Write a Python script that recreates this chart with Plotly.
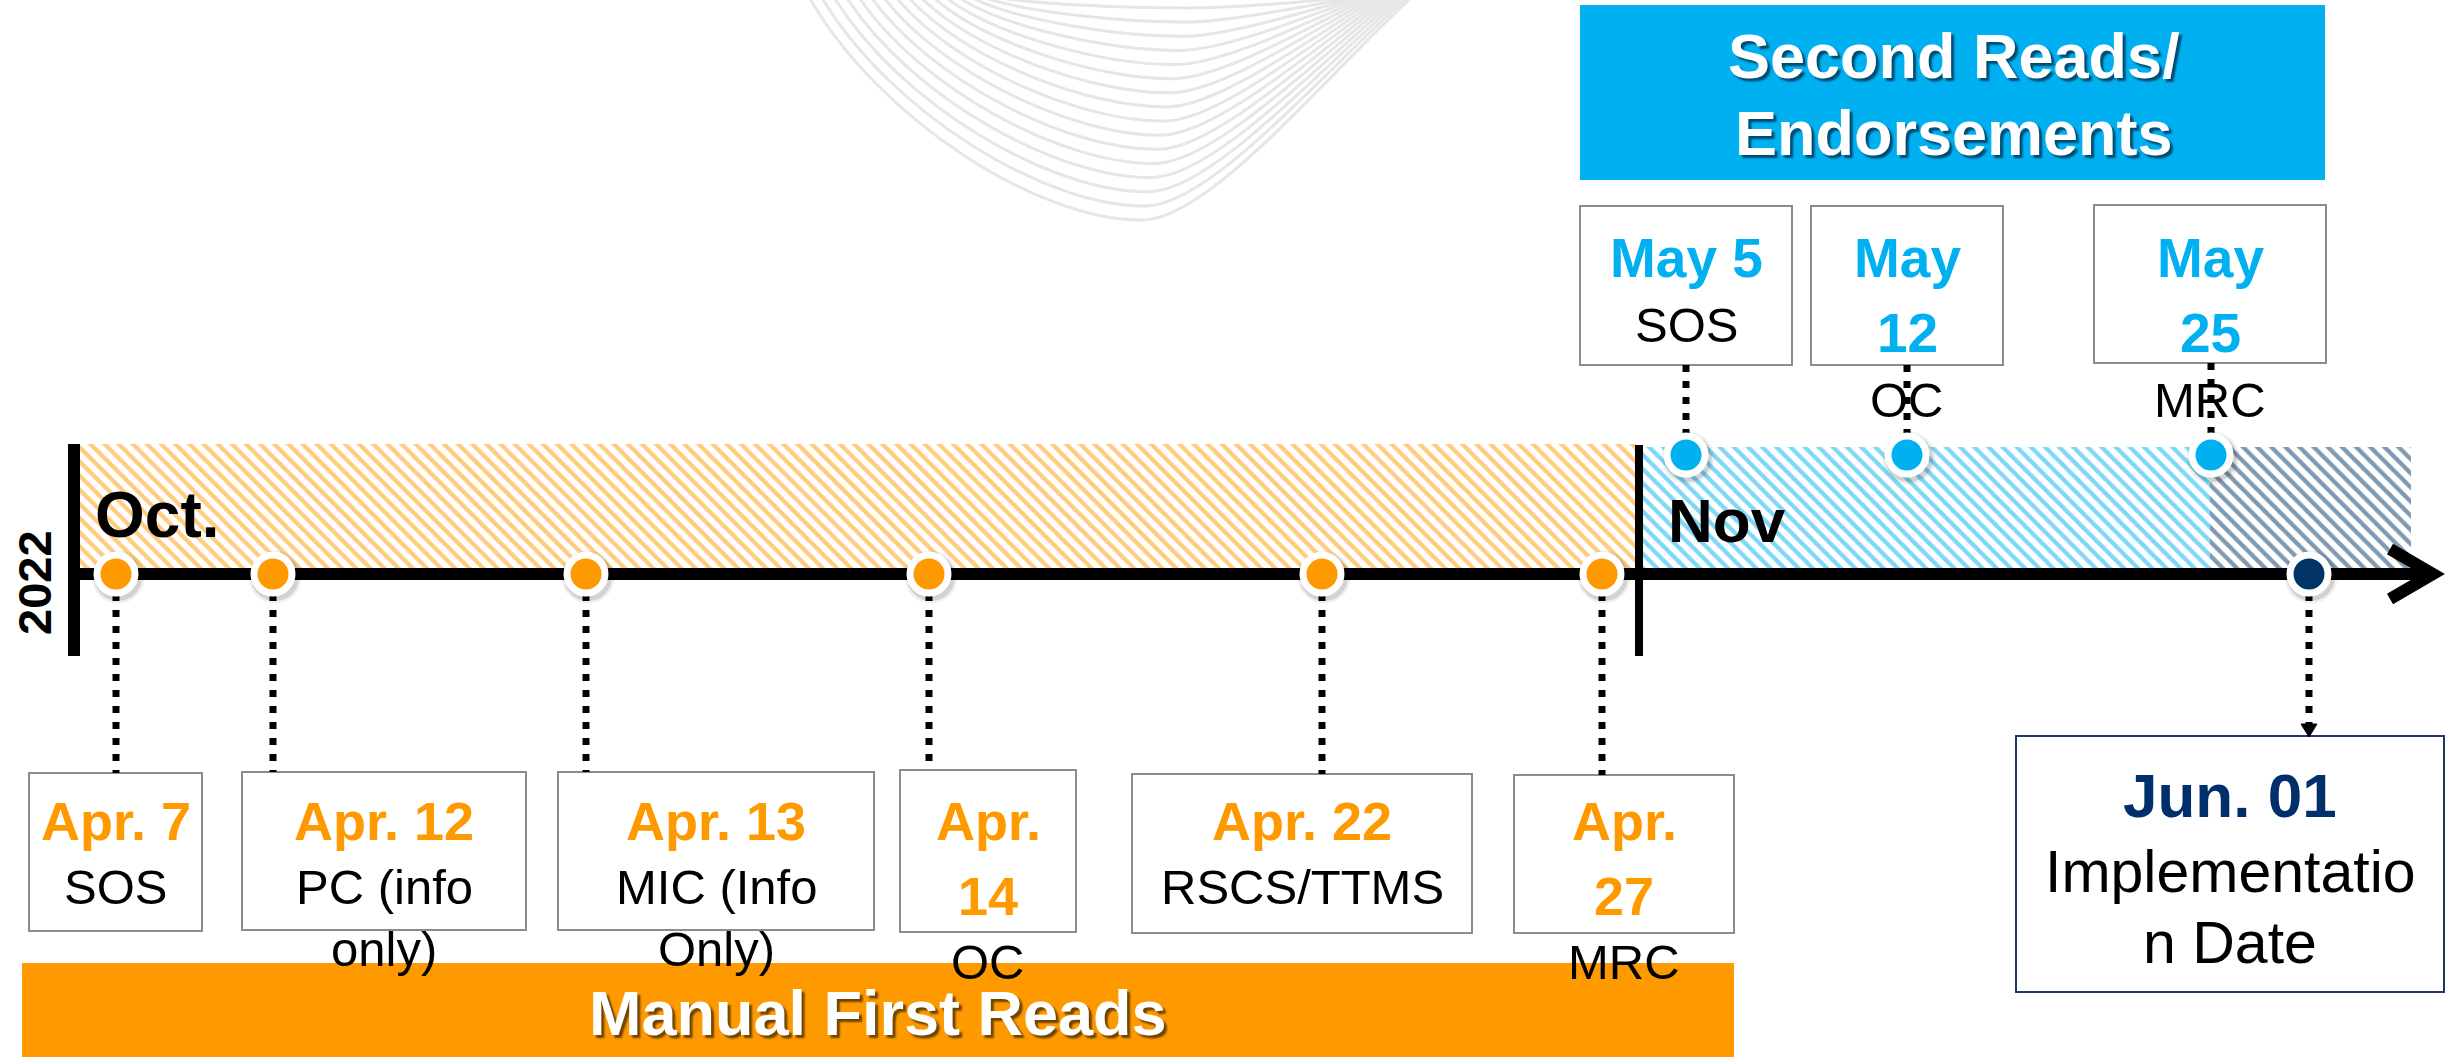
import plotly.graph_objects as go

# ---------------- data ----------------
year_label = "2022"
period_labels = ["Oct.", "Nov"]
phase_titles = ["Manual First Reads", "Second Reads/", "Endorsements"]

# first reads (orange) : timeline positions
first_pos = [116, 273, 586, 929, 1322, 1602]
first_date_lines = [["Apr. 7"], ["Apr. 12"], ["Apr. 13"], ["Apr.", "14"], ["Apr. 22"], ["Apr.", "27"]]
first_label_lines = [["SOS"], ["PC (info", "only)"], ["MIC (Info", "Only)"], ["OC"], ["RSCS/TTMS"], ["MRC"]]

# second reads / endorsements (blue)
second_pos = [1686, 1907, 2211]
second_date_lines = [["May 5"], ["May", "12"], ["May", "25"]]
second_label_lines = [["SOS"], ["OC"], ["MRC"]]

# implementation (navy)
impl_pos = [2309]
impl_date_lines = [["Jun. 01"]]
impl_label_lines = [["Implementatio", "n Date"]]

# period bands on the timeline (start, end)
band_starts = [80, 1643, 2210]
band_ends = [1636, 2210, 2411]

# ---------------- layout / style ----------------
W, H = 2450, 1057
FONT = "Liberation Sans, Arial, sans-serif"
ORANGE = "#FF9900"
BLUE = "#00B0F0"
NAVY = "#003366"
NAVY_TXT = "#002F6C"
GRAY = "#8C8C8C"

LINE_Y = 574
TOP_DOT_Y = 455
BAND_TOP = [444, 447, 447]
BAND_BOTTOM = 570
band_colors = [ORANGE, BLUE, NAVY]

first_boxes = [(29, 202, 773, 931), (242, 526, 772, 930), (558, 874, 772, 930),
               (900, 1076, 770, 932), (1132, 1472, 774, 933), (1514, 1734, 775, 933)]
second_boxes = [(1580, 1792, 206, 365), (1811, 2003, 206, 365), (2094, 2326, 205, 363)]
impl_boxes = [(2016, 2444, 736, 992)]

fig = go.Figure()

# ---- background decorative curves ----
shapes = []
n_curves = 16
for k in range(n_curves):
    t = k / (n_curves - 1)
    sx = 809 + t * (995 - 809)
    mx = 1144 + t * 45
    my = 220 - t * 212
    ex = 1412 - t * 62
    c1 = (sx + 0.21 * (mx - sx), 0.545 * my)
    c2 = (mx - 0.31 * (mx - sx), my * 1.01)
    c3 = (mx + 0.25 * (ex - mx), my * 0.99)
    c4 = (ex - 0.3 * (ex - mx), 0.32 * my)
    path = (f"M {sx:.1f},-3 C {c1[0]:.1f},{c1[1]:.1f} {c2[0]:.1f},{c2[1]:.1f} {mx:.1f},{my:.1f} "
            f"C {c3[0]:.1f},{c3[1]:.1f} {c4[0]:.1f},{c4[1]:.1f} {ex:.1f},-3")
    shapes.append(dict(type="path", path=path, xref="x", yref="y", layer="below",
                       line=dict(color="#E6E6E6", width=3)))

# ---- header bars ----
shapes.append(dict(type="rect", xref="x", yref="y", x0=1580, x1=2325, y0=5, y1=180,
                   fillcolor=BLUE, line=dict(width=0), layer="below"))
shapes.append(dict(type="rect", xref="x", yref="y", x0=22, x1=1734, y0=963, y1=H + 5,
                   fillcolor=ORANGE, line=dict(width=0), layer="below"))

# ---- boxes ----
for (x0, x1, y0, y1) in first_boxes + second_boxes:
    shapes.append(dict(type="rect", xref="x", yref="y", x0=x0, x1=x1, y0=y0, y1=y1,
                       fillcolor="white", line=dict(color=GRAY, width=2), layer="below"))
for (x0, x1, y0, y1) in impl_boxes:
    shapes.append(dict(type="rect", xref="x", yref="y", x0=x0, x1=x1, y0=y0, y1=y1,
                       fillcolor="white", line=dict(color="#203864", width=2), layer="below"))

# ---- arrow head of timeline ----
shapes.append(dict(type="path", xref="x", yref="y", layer="above",
                   path="M 2390,549 L 2433,574 L 2390,599", line=dict(color="black", width=12)))
# arrow tip of Jun connector
shapes.append(dict(type="path", xref="x", yref="y", layer="above",
                   path=f"M {impl_pos[0]-8},724 L {impl_pos[0]+8},724 L {impl_pos[0]},737 Z",
                   fillcolor="black", line=dict(color="black", width=1)))

# ---- hatched period bands ----
for s, e, top, c in zip(band_starts, band_ends, BAND_TOP, band_colors):
    fig.add_trace(go.Bar(orientation="h", base=[s], x=[e - s], y=[(top + BAND_BOTTOM) / 2],
                         width=[BAND_BOTTOM - top],
                         marker=dict(color=c, line=dict(width=0),
                                     pattern=dict(shape="\\", fgcolor=c, bgcolor="white",
                                                  fillmode="overlay", size=10, solidity=0.42)),
                         hoverinfo="skip", showlegend=False))

# ---- vertical year/month bars ----
fig.add_trace(go.Scatter(x=[74, 74], y=[444, 656], mode="lines",
                         line=dict(color="black", width=12), hoverinfo="skip", showlegend=False))
fig.add_trace(go.Scatter(x=[1639, 1639], y=[445, 656], mode="lines",
                         line=dict(color="black", width=8), hoverinfo="skip", showlegend=False))
# ---- main timeline ----
fig.add_trace(go.Scatter(x=[74, 2425], y=[LINE_Y, LINE_Y], mode="lines",
                         line=dict(color="black", width=12), hoverinfo="skip", showlegend=False))

# ---- dotted connectors ----
cx, cy = [], []
for p, b in zip(first_pos, first_boxes):
    cx += [p, p, None]; cy += [LINE_Y + 20, b[2], None]
for p, b in zip(second_pos, second_boxes):
    cx += [p, p, None]; cy += [b[3], TOP_DOT_Y - 20, None]
for p, b in zip(impl_pos, impl_boxes):
    cx += [p, p, None]; cy += [LINE_Y + 20, b[2] - 10, None]
fig.add_trace(go.Scatter(x=cx, y=cy, mode="lines",
                         line=dict(color="black", width=7, dash="7px,9px"),
                         hoverinfo="skip", showlegend=False))

# ---- circles with shadow ----
groups = [(first_pos, LINE_Y, ORANGE), (second_pos, TOP_DOT_Y, BLUE), (impl_pos, LINE_Y, NAVY)]
for pos, yy, col in groups:
    fig.add_trace(go.Scatter(x=[p + 2 for p in pos], y=[yy + 3] * len(pos), mode="markers",
                             marker=dict(size=53, color="rgba(0,0,0,0.06)", line=dict(width=0)),
                             hoverinfo="skip", showlegend=False))
    fig.add_trace(go.Scatter(x=[p + 2 for p in pos], y=[yy + 3] * len(pos), mode="markers",
                             marker=dict(size=48, color="rgba(0,0,0,0.12)", line=dict(width=0)),
                             hoverinfo="skip", showlegend=False))
    fig.add_trace(go.Scatter(x=pos, y=[yy] * len(pos), mode="markers",
                             marker=dict(size=38, color=col, line=dict(color="white", width=7)),
                             hoverinfo="skip", showlegend=False))

# ---------------- texts ----------------
def add_text(x, baseline, txt, size, color, bold=False, shadow="none", anchor="center"):
    fig.add_annotation(x=x, y=baseline - 0.347 * size, xref="x", yref="y", text=txt,
                       showarrow=False, xanchor=anchor, yanchor="middle",
                       font=dict(family=FONT, size=size, color=color,
                                 weight=700 if bold else 400, shadow=shadow))


def stack(xc, b0, dlines, llines, dcolor, dsize, lsize, dd, dl, ll):
    b = b0
    prev = None
    for ln in dlines:
        if prev == "d":
            b += dd
        add_text(xc, b, ln, dsize, dcolor, bold=True)
        prev = "d"
    for ln in llines:
        b += dl if prev == "d" else ll
        add_text(xc, b, ln, lsize, "black")
        prev = "l"


for box, dl_, ll_ in zip(first_boxes, first_date_lines, first_label_lines):
    stack((box[0] + box[1]) / 2, 840, dl_, ll_, ORANGE, 54, 49, 75, 64, 62)
for box, dl_, ll_ in zip(second_boxes, second_date_lines, second_label_lines):
    stack((box[0] + box[1]) / 2, 277, dl_, ll_, BLUE, 55, 49, 75, 65, 62)
for box, dl_, ll_ in zip(impl_boxes, impl_date_lines, impl_label_lines):
    stack((box[0] + box[1]) / 2, 817, dl_, ll_, NAVY_TXT, 62, 59, 75, 75, 71)

SHADOW = "3px 3px 2px rgba(60,40,0,0.75)"
add_text(878, 1035, phase_titles[0], 63, "white", bold=True, shadow=SHADOW)
add_text(1954, 78, phase_titles[1], 63, "white", bold=True, shadow="3px 3px 2px rgba(0,50,80,0.8)")
add_text(1954, 155, phase_titles[2], 63, "white", bold=True, shadow="3px 3px 2px rgba(0,50,80,0.8)")

add_text(93, 537, period_labels[0], 64, "black", bold=True, anchor="left")
add_text(1666, 542, period_labels[1], 62, "black", bold=True, anchor="left")

fig.add_annotation(x=34, y=583, xref="x", yref="y", text=year_label, showarrow=False,
                   textangle=-90, xanchor="center", yanchor="middle",
                   font=dict(family=FONT, size=47, color="black", weight=700))

fig.update_layout(
    width=W, height=H, margin=dict(l=0, r=0, t=0, b=0),
    paper_bgcolor="white", plot_bgcolor="white",
    barmode="overlay", showlegend=False, hovermode=False,
    shapes=shapes,
    xaxis=dict(range=[0, W], visible=False, fixedrange=True),
    yaxis=dict(range=[H, 0], visible=False, fixedrange=True),
)

fig.write_html("out.html", config={"displayModeBar": False},
               post_script="document.body.style.margin='0';document.body.style.overflow='hidden';")
